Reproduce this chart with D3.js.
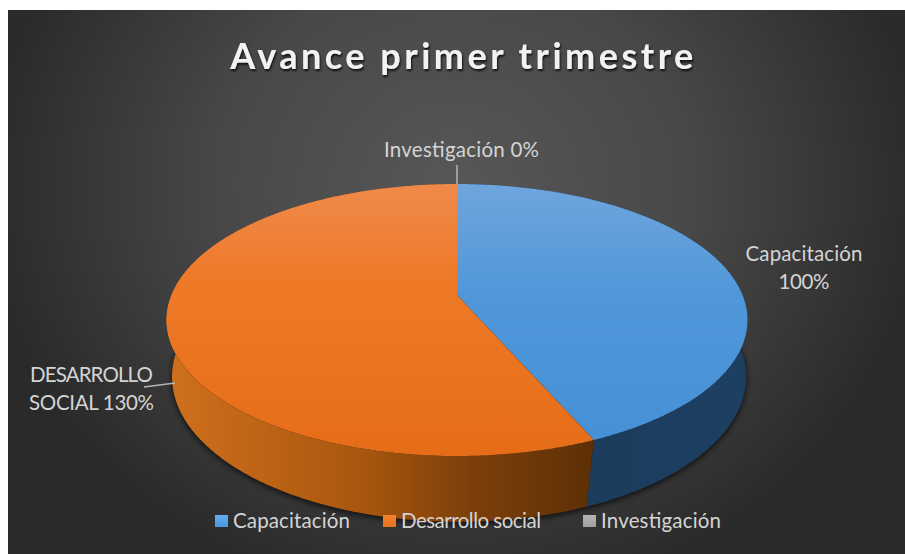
<!DOCTYPE html>
<html>
<head>
<meta charset="utf-8">
<script src="https://cdn.jsdelivr.net/npm/d3@7"></script>
<style>
html, body { margin: 0; padding: 0; background: #fff; }
svg { display: block; }
text { font-family: Lato, "Open Sans", sans-serif; }
</style>
</head>
<body>
<svg id="canvas"></svg>
<script>
var w = 905
var h = 554
var titleText = 'Avance primer trimestre'
var categories = ['Capacitación', 'Desarrollo social', 'Investigación']
var values = [100, 130, 0]
var labelLines = [['Capacitación', '100%'], ['DESARROLLO', 'SOCIAL 130%'], ['Investigación 0%']]

// pie is seen in perspective, so project points of the unit circle by hand
// one plane for the top face, one for the bottom rim
var topPlane = {cx: 457, cy: 295, A: 285.5, B: 131.4, persp: 0.184}
var bottomPlane = {cx: 459, cy: 359.5, A: 284.9, B: 142.8, persp: 0.12}

function project(angle, plane){
  var x = Math.sin(angle), z = Math.cos(angle)
  var s = 1 / (1 + plane.persp * z)
  return [plane.cx + plane.A * x * s, plane.cy - plane.B * z * s]
}
function arcPoints(a0, a1, plane){
  var n = Math.max(2, Math.ceil(Math.abs(a1 - a0) / 0.01))
  return d3.range(n + 1).map(i => project(a0 + (a1 - a0) * i / n, plane))
}

var svg = d3.select('#canvas').attr('width', w).attr('height', h)
var defs = svg.append('defs')

var bg = defs.append('radialGradient').attr('id', 'bg')
  .attr('gradientUnits', 'userSpaceOnUse')
  .attr('cx', 0).attr('cy', 0).attr('r', 1)
  .attr('gradientTransform', 'translate(455,185) scale(470,420)')
bg.append('stop').attr('offset', 0).attr('stop-color', '#575757')
bg.append('stop').attr('offset', 0.5).attr('stop-color', '#484848')
bg.append('stop').attr('offset', 1).attr('stop-color', '#2a2a2a')

function vGrad(id, stops){
  var g = defs.append('linearGradient').attr('id', id)
    .attr('x1', 0).attr('y1', 0).attr('x2', 0).attr('y2', 1)
  stops.forEach(s => g.append('stop').attr('offset', s[0]).attr('stop-color', s[1]))
}
function hGrad(id, stops){
  var g = defs.append('linearGradient').attr('id', id)
    .attr('x1', 0).attr('y1', 0).attr('x2', 1).attr('y2', 0)
  stops.forEach(s => g.append('stop').attr('offset', s[0]).attr('stop-color', s[1]))
}
vGrad('top0', [[0, '#6fa5dd'], [0.45, '#4f97d9'], [1, '#4690d6']])
vGrad('top1', [[0, '#ef8a4b'], [0.35, '#ee7a28'], [1, '#e66d18']])
vGrad('top2', [[0, '#a5a5a5'], [1, '#a5a5a5']])
hGrad('side0', [[0, '#1a3a58'], [1, '#1d3f62']])
hGrad('side1', [[0, '#d0701c'], [0.45, '#a9570f'], [0.72, '#7c3f0a'], [1, '#5e3006']])
hGrad('side2', [[0, '#555'], [1, '#555']])
vGrad('leg0', [[0, '#62aef0'], [1, '#4a96e0']])
vGrad('leg1', [[0, '#f08030'], [1, '#ea7020']])
vGrad('leg2', [[0, '#b5b5b5'], [1, '#a0a0a0']])

var blur = defs.append('filter').attr('id', 'blur')
  .attr('x', '-10%').attr('y', '-10%').attr('width', '120%').attr('height', '120%')
blur.append('feGaussianBlur').attr('stdDeviation', 3)

var titleShadow = defs.append('filter').attr('id', 'titleShadow')
titleShadow.append('feDropShadow').attr('dx', 1).attr('dy', 2)
  .attr('stdDeviation', 1).attr('flood-color', '#000').attr('flood-opacity', 0.8)

svg.append('rect').attr('x', 8).attr('y', 10).attr('width', w - 8).attr('height', h - 10)
  .attr('fill', 'url(#bg)')

svg.append('text').attr('x', 463.5).attr('y', 69)
  .attr('text-anchor', 'middle')
  .attr('font-size', 36).attr('font-weight', 700)
  .attr('letter-spacing', 3.5)
  .attr('fill', '#f2f2f2')
  .attr('filter', 'url(#titleShadow)')
  .text(titleText)

var pie = d3.pie().sort(null).value(d => d)
var slices = pie(values)
var line = d3.line()

// soft shadow under the pie
svg.append('path')
  .attr('d', line(arcPoints(0, 2 * Math.PI, bottomPlane)) + 'Z')
  .attr('transform', 'translate(0,2)')
  .attr('fill', '#000').attr('opacity', 0.75).attr('filter', 'url(#blur)')

var sides = svg.append('g')
sides.selectAll('path').data(slices).enter().append('path')
  .attr('d', d => line(arcPoints(d.startAngle, d.endAngle, topPlane)
    .concat(arcPoints(d.endAngle, d.startAngle, bottomPlane))) + 'Z')
  .attr('fill', (d, i) => 'url(#side' + i + ')')

var tops = svg.append('g')
tops.selectAll('path').data(slices).enter().append('path')
  .attr('d', d => line([[topPlane.cx, topPlane.cy]].concat(arcPoints(d.startAngle, d.endAngle, topPlane))) + 'Z')
  .attr('fill', (d, i) => 'url(#top' + i + ')')

// leader lines
svg.append('path').attr('d', 'M457,165V184M144,387L175,383')
  .attr('fill', 'none').attr('stroke', '#b5b5b5').attr('stroke-width', 1.5)

// data labels
var labelPos = [[804, 261], [91.5, 382], [461.5, 157]]
var labelLen = [[117, 51], [123, 125], [155]]
var labels = svg.append('g').attr('font-size', 20.5).attr('fill', '#d4d4d4')
labelLines.forEach((lines, i) => {
  var t = labels.append('text').attr('text-anchor', 'middle')
  lines.forEach((l, j) => {
    t.append('tspan').attr('x', labelPos[i][0]).attr('y', labelPos[i][1] + j * 28)
      .attr('textLength', labelLen[i][j]).text(l)
  })
})

// legend
var legendX = [215, 383, 583]
var legendLen = [117, 140, 120]
var legend = svg.append('g').selectAll('g').data(categories).enter().append('g')
legend.append('rect').attr('x', (d, i) => legendX[i]).attr('y', 515)
  .attr('width', 13).attr('height', 12)
  .attr('fill', (d, i) => 'url(#leg' + i + ')')
legend.append('text').attr('x', (d, i) => legendX[i] + 18).attr('y', 528)
  .attr('font-size', 20.5).attr('fill', '#d4d4d4')
  .attr('textLength', (d, i) => legendLen[i])
  .text(d => d)
</script>
</body>
</html>
